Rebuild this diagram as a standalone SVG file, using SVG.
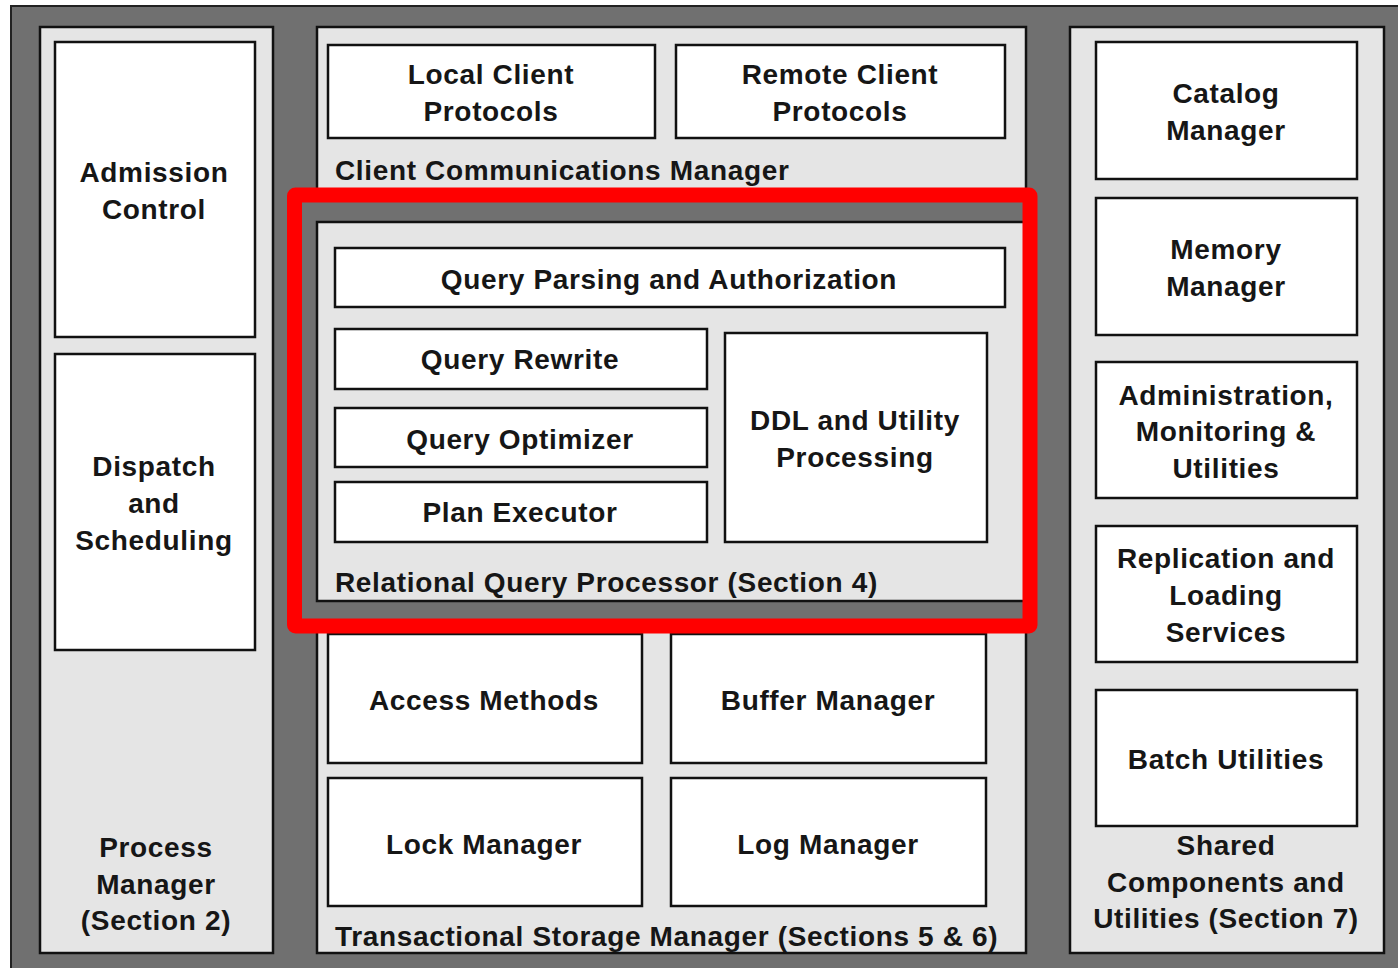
<svg xmlns="http://www.w3.org/2000/svg" width="1398" height="968" viewBox="0 0 1398 968">
<style>
.panel{fill:#e5e5e5;stroke:#111;stroke-width:2.5}
.box{fill:#fff;stroke:#111;stroke-width:2.5}
text{font-family:"Liberation Sans",Arial,sans-serif;font-weight:bold;font-size:28px;letter-spacing:0.65px;fill:#161616}
.c{text-anchor:middle}
</style>
<rect x="0" y="0" width="1398" height="968" fill="#fff"/>
<rect id="outer" x="11" y="6" width="1400" height="980" fill="#707070" stroke="#222" stroke-width="2"/>

<g id="process-manager">
<rect class="panel" x="40" y="27" width="233" height="926"/>
<text class="c" x="156" y="857">Process</text>
<text class="c" x="156" y="894">Manager</text>
<text class="c" x="156" y="930">(Section 2)</text>
</g>
<g id="admission-control">
<rect class="box" x="55" y="42" width="200" height="295"/>
<text class="c" x="154" y="182">Admission</text>
<text class="c" x="154" y="219">Control</text>
</g>
<g id="dispatch">
<rect class="box" x="55" y="354" width="200" height="296"/>
<text class="c" x="154" y="476">Dispatch</text>
<text class="c" x="154" y="513">and</text>
<text class="c" x="154" y="550">Scheduling</text>
</g>

<g id="client-comm">
<rect class="panel" x="317" y="27" width="709" height="170"/>
<text x="335" y="180">Client Communications Manager</text>
</g>
<g id="local-client">
<rect class="box" x="328" y="45" width="327" height="93"/>
<text class="c" x="491" y="84">Local Client</text>
<text class="c" x="491" y="121">Protocols</text>
</g>
<g id="remote-client">
<rect class="box" x="676" y="45" width="329" height="93"/>
<text class="c" x="840" y="84">Remote Client</text>
<text class="c" x="840" y="121">Protocols</text>
</g>

<g id="rqp">
<rect class="panel" x="317" y="222" width="709" height="379"/>
<text x="335" y="592">Relational Query Processor (Section 4)</text>
</g>
<g id="query-parsing">
<rect class="box" x="335" y="248" width="670" height="59"/>
<text class="c" x="669" y="289">Query Parsing and Authorization</text>
</g>
<g id="query-rewrite">
<rect class="box" x="335" y="329" width="372" height="60"/>
<text class="c" x="520" y="369">Query Rewrite</text>
</g>
<g id="query-optimizer">
<rect class="box" x="335" y="408" width="372" height="59"/>
<text class="c" x="520" y="449">Query Optimizer</text>
</g>
<g id="plan-executor">
<rect class="box" x="335" y="482" width="372" height="60"/>
<text class="c" x="520" y="522">Plan Executor</text>
</g>
<g id="ddl">
<rect class="box" x="725" y="333" width="262" height="209"/>
<text class="c" x="855" y="430">DDL and Utility</text>
<text class="c" x="855" y="467">Processing</text>
</g>

<g id="tsm">
<rect class="panel" x="317" y="626" width="709" height="327"/>
<text x="335" y="946">Transactional Storage Manager (Sections 5 &amp; 6)</text>
</g>
<g id="access-methods">
<rect class="box" x="328" y="634" width="314" height="129"/>
<text class="c" x="484" y="710">Access Methods</text>
</g>
<g id="buffer-manager">
<rect class="box" x="671" y="634" width="315" height="129"/>
<text class="c" x="828" y="710">Buffer Manager</text>
</g>
<g id="lock-manager">
<rect class="box" x="328" y="778" width="314" height="128"/>
<text class="c" x="484" y="854">Lock Manager</text>
</g>
<g id="log-manager">
<rect class="box" x="671" y="778" width="315" height="128"/>
<text class="c" x="828" y="854">Log Manager</text>
</g>

<g id="shared">
<rect class="panel" x="1070" y="27" width="314" height="926"/>
<text class="c" x="1226" y="855">Shared</text>
<text class="c" x="1226" y="892">Components and</text>
<text class="c" x="1226" y="928">Utilities (Section 7)</text>
</g>
<g id="catalog">
<rect class="box" x="1096" y="42" width="261" height="137"/>
<text class="c" x="1226" y="103">Catalog</text>
<text class="c" x="1226" y="140">Manager</text>
</g>
<g id="memory">
<rect class="box" x="1096" y="198" width="261" height="137"/>
<text class="c" x="1226" y="259">Memory</text>
<text class="c" x="1226" y="296">Manager</text>
</g>
<g id="admin">
<rect class="box" x="1096" y="362" width="261" height="136"/>
<text class="c" x="1226" y="405">Administration,</text>
<text class="c" x="1226" y="441">Monitoring &amp;</text>
<text class="c" x="1226" y="478">Utilities</text>
</g>
<g id="replication">
<rect class="box" x="1096" y="526" width="261" height="136"/>
<text class="c" x="1226" y="568">Replication and</text>
<text class="c" x="1226" y="605">Loading</text>
<text class="c" x="1226" y="642">Services</text>
</g>
<g id="batch">
<rect class="box" x="1096" y="690" width="261" height="136"/>
<text class="c" x="1226" y="769">Batch Utilities</text>
</g>

<g id="connectors"></g>

<g id="highlight">
<rect x="294.5" y="195" width="735.5" height="431" rx="1" fill="none" stroke="#ff0000" stroke-width="15"/>
</g>
</svg>
